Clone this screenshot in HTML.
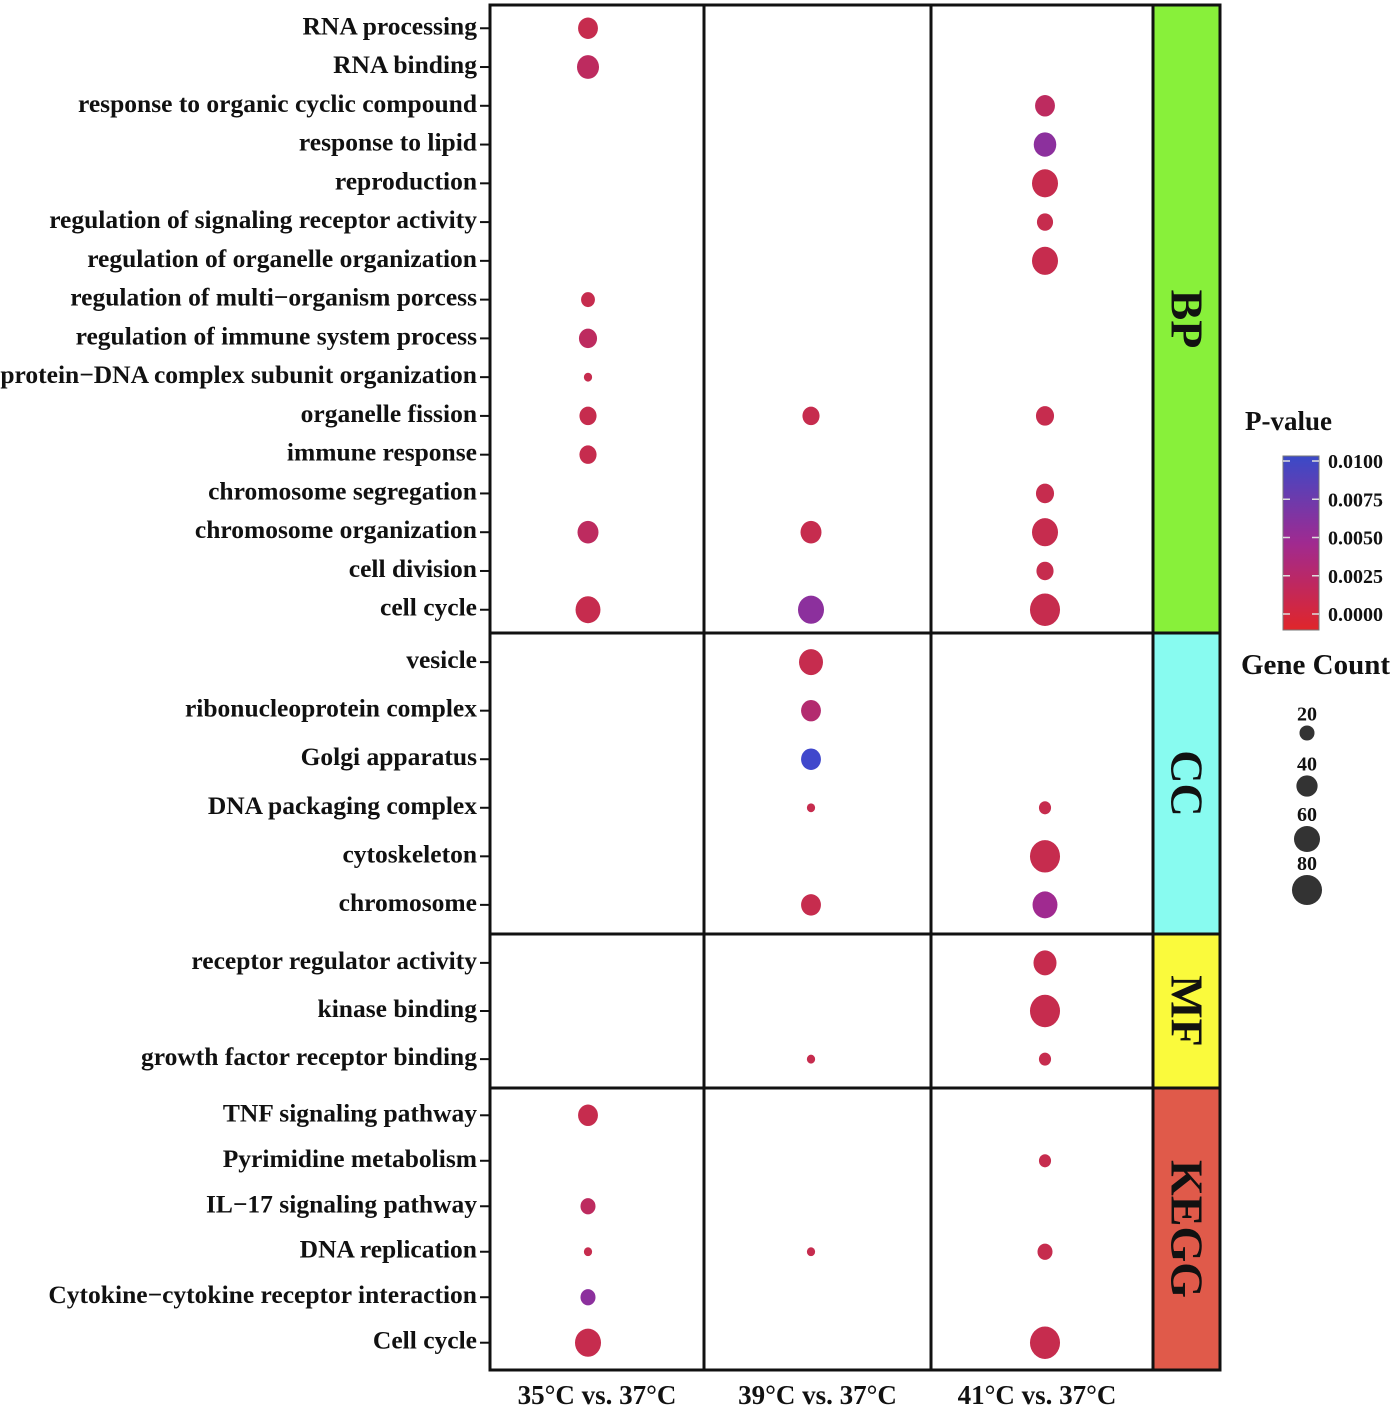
<!DOCTYPE html>
<html><head><meta charset="utf-8"><style>
html,body{margin:0;padding:0;background:#fff;}
svg text{font-family:"Liberation Serif",serif;font-weight:bold;fill:#111;}
</style></head><body>
<svg id="chart" width="1400" height="1409" viewBox="0 0 1400 1409" xmlns="http://www.w3.org/2000/svg">
<defs>
<linearGradient id="pgrad" x1="0" y1="1" x2="0" y2="0">
<stop offset="0" stop-color="#e0262a"/><stop offset="0.5" stop-color="#a02a90"/><stop offset="1" stop-color="#3a4ac8"/>
</linearGradient>
</defs>
<g id="plot"></g>
</svg>
<script>
const facets = ["BP","CC","MF","KEGG"];
const facetColors = ["#88f03a","#88fbf0","#fafa3c","#e05a4a"];
const conditions = ["35°C vs. 37°C","39°C vs. 37°C","41°C vs. 37°C"];
const termsBP = ["RNA processing","RNA binding","response to organic cyclic compound","response to lipid","reproduction","regulation of signaling receptor activity","regulation of organelle organization","regulation of multi\u2212organism porcess","regulation of immune system process","protein\u2212DNA complex subunit organization","organelle fission","immune response","chromosome segregation","chromosome organization","cell division","cell cycle"];
const termsCC = ["vesicle","ribonucleoprotein complex","Golgi apparatus","DNA packaging complex","cytoskeleton","chromosome"];
const termsMF = ["receptor regulator activity","kinase binding","growth factor receptor binding"];
const termsKEGG = ["TNF signaling pathway","Pyrimidine metabolism","IL\u221217 signaling pathway","DNA replication","Cytokine\u2212cytokine receptor interaction","Cell cycle"];
// [facet, termIndex, conditionIndex, geneCount, pValue]
const points = [
 [0,0,0,35,0.001],[0,1,0,43,0.002],[0,2,2,35,0.002],[0,3,2,45,0.006],[0,4,2,60,0.001],
 [0,5,2,23,0.001],[0,6,2,60,0.001],[0,7,0,17,0.001],[0,8,0,29,0.002],[0,9,0,6,0.001],
 [0,10,0,26,0.001],[0,10,1,26,0.001],[0,10,2,29,0.001],[0,11,0,26,0.001],[0,12,2,29,0.001],
 [0,13,0,39,0.002],[0,13,1,39,0.001],[0,13,2,60,0.001],[0,14,2,26,0.001],
 [0,15,0,55,0.001],[0,15,1,60,0.006],[0,15,2,80,0.001],
 [1,0,1,51,0.001],[1,1,1,35,0.003],[1,2,1,35,0.0097],[1,3,1,6,0.001],[1,3,2,13,0.001],
 [1,4,2,80,0.001],[1,5,1,35,0.001],[1,5,2,55,0.005],
 [2,0,2,47,0.001],[2,1,2,80,0.001],[2,2,1,6,0.001],[2,2,2,13,0.001],
 [3,0,0,35,0.001],[3,1,2,13,0.001],[3,2,0,20,0.002],[3,3,0,6,0.001],[3,3,1,6,0.001],[3,3,2,20,0.001],
 [3,4,0,20,0.006],[3,5,0,60,0.001],[3,5,2,80,0.001]
];
const pTicks = [0,0.0025,0.005,0.0075,0.01];
const pTickLabels = ["0.0000","0.0025","0.0050","0.0075","0.0100"];
const sizeLegend = [20,40,60,80];

const termLists=[termsBP,termsCC,termsMF,termsKEGG];
const NS="http://www.w3.org/2000/svg";
const g=document.getElementById('plot');
function mk(t,a,p){const e=document.createElementNS(NS,t);for(const k in a)e.setAttribute(k,a[k]);(p||g).appendChild(e);return e;}
const L=490,R=1153,SR=1220;
const panelTop=[5,633,934,1088], panelBot=[633,934,1088,1370];
const colEdges=[490,704,931,1153];
const colX=[588,811,1045];
function xScale(ci){return colX[ci];}
function yPos(f,ti){const n=termLists[f].length;const t=panelTop[f],b=panelBot[f];const step=(b-t)/(n-1+1.2);return t+step*(ti+0.6);}
function rScale(c){return 1.68*Math.sqrt(c);}
function lerp(a,b,t){return a+(b-a)*t;}
function hex(c){return [parseInt(c.slice(1,3),16),parseInt(c.slice(3,5),16),parseInt(c.slice(5,7),16)];}
const stops=[hex("#d02c3e"),hex("#a02a90"),hex("#3a4ad0")];
function color(p){let t=Math.max(0,Math.min(1,p/0.01));let a,b,u;if(t<0.5){a=stops[0];b=stops[1];u=t/0.5;}else{a=stops[1];b=stops[2];u=(t-0.5)/0.5;}return `rgb(${a.map((v,i)=>Math.round(lerp(v,b[i],u))).join(',')})`;}

mk('rect',{x:L,y:5,width:R-L,height:1365,fill:'#fff'});
termLists.forEach((list,f)=>{
 list.forEach((term,ti)=>{
  const y=yPos(f,ti);
  const tx=mk('text',{x:477,y:y+6,'text-anchor':'end','font-size':25.5});
  tx.textContent=term;
  
  
  mk('line',{x1:480,x2:490,y1:y,y2:y,stroke:'#111','stroke-width':2});
 });
 const st=mk('rect',{x:R,y:panelTop[f],width:SR-R,height:panelBot[f]-panelTop[f],fill:facetColors[f],stroke:'#111','stroke-width':3});
 
 
 const cy=(panelTop[f]+panelBot[f])/2, cx=(R+SR)/2;
 const s=mk('text',{x:cx,y:cy,'text-anchor':'middle','font-size':46,transform:`rotate(90 ${cx} ${cy}) translate(0 15)`});
 s.textContent=facets[f];
 
 
});
points.forEach(p=>{
 const [f,ti,ci,cnt,pv]=p;
 const r=rScale(cnt);
 const c=mk('ellipse',{cx:xScale(ci),cy:yPos(f,ti),rx:r,ry:r*1.08,fill:color(pv)});
 
 
});
for(let f=0;f<4;f++){
 mk('rect',{x:L,y:panelTop[f],width:R-L,height:panelBot[f]-panelTop[f],fill:'none',stroke:'#111','stroke-width':3});
}
[704,931].forEach(x=>mk('line',{x1:x,x2:x,y1:5,y2:1370,stroke:'#111','stroke-width':3}));
conditions.forEach((c,i)=>{
 const t=mk('text',{x:(colEdges[i]+colEdges[i+1])/2-(i===2?5:0),y:1404,'text-anchor':'middle','font-size':27});
 t.textContent=c;
 
 
});
const lt=mk('text',{x:1245,y:430,'font-size':27});lt.textContent='P-value';


const cbTop=456,cbBot=630;
const cb=mk('rect',{x:1283,y:cbTop,width:36,height:cbBot-cbTop,fill:'url(#pgrad)',stroke:'#777','stroke-width':1});


function pY(v){return 614-(614-461)*v/0.01;}
pTicks.forEach((v,i)=>{
 const y=pY(v);
 mk('line',{x1:1283,x2:1290,y1:y,y2:y,stroke:'#ddd','stroke-width':1.5});
 mk('line',{x1:1312,x2:1319,y1:y,y2:y,stroke:'#ddd','stroke-width':1.5});
 const t=mk('text',{x:1328,y:y+7,'font-size':20});t.textContent=pTickLabels[i];
 
 
});
const gt=mk('text',{x:1241,y:674,'font-size':29});gt.textContent='Gene Count';


const legY=[733,786,839,890];
sizeLegend.forEach((v,i)=>{
 const r=rScale(v);
 const c=mk('circle',{cx:1307,cy:legY[i],r:r,fill:'#333'});
 
 
 const t=mk('text',{x:1307,y:legY[i]-r-5,'text-anchor':'middle','font-size':20});t.textContent=v;
 
 
});
</script>
</body></html>
